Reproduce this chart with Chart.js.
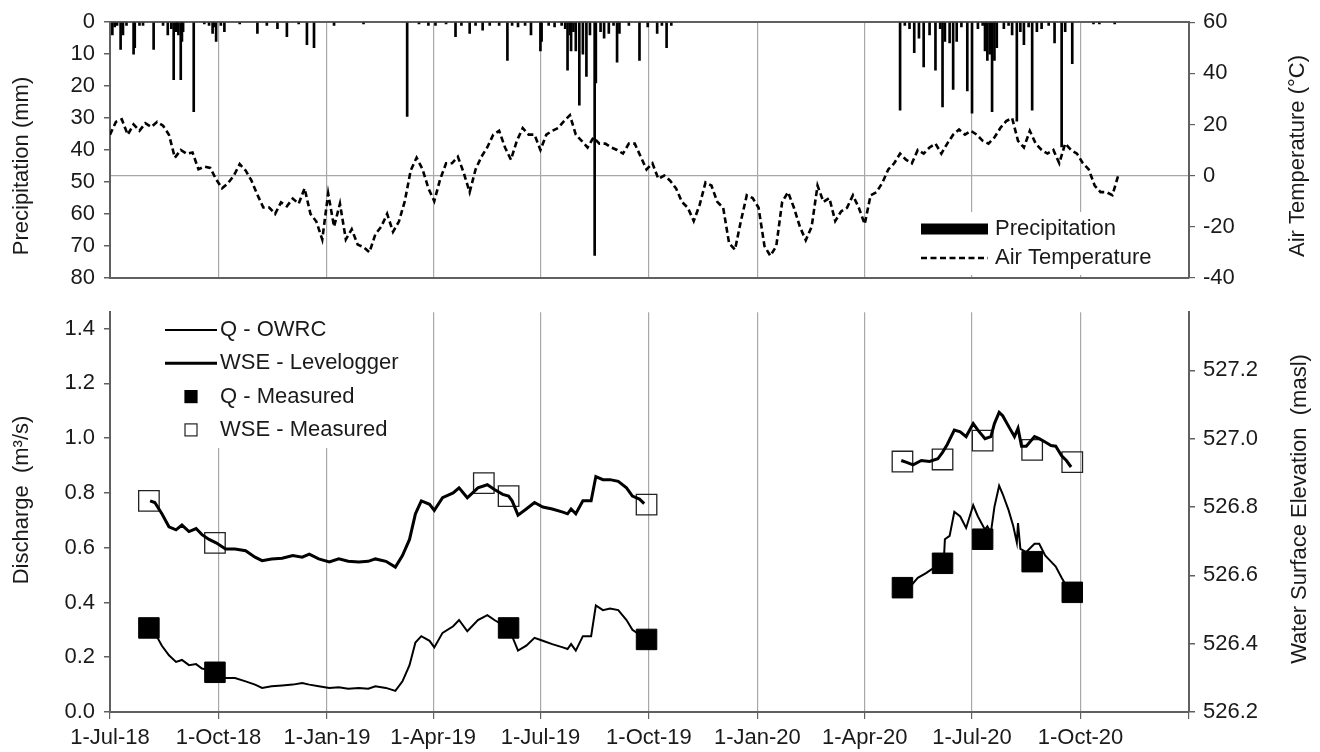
<!DOCTYPE html>
<html>
<head>
<meta charset="utf-8">
<script src="https://cdn.jsdelivr.net/npm/chart.js@4.4.1/dist/chart.umd.min.js"></script>
<style>
  html, body { margin: 0; padding: 0; background: #fff; }
  #wrap { position: relative; width: 1320px; height: 752px; }
  #topChart { position: absolute; left: 0; top: 0; }
  #botChart { position: absolute; left: 0; top: 290px; }
</style>
</head>
<body>
<div id="wrap">
  <canvas id="topChart" width="1320" height="300"></canvas>
  <canvas id="botChart" width="1320" height="462"></canvas>
</div>
<script>
// all x values are days counted from 1-Jul-2018
const quarterDays = [0, 92, 184, 274, 365, 457, 549, 640, 731, 823, 915];
const quarterLabels = ['1-Jul-18', '1-Oct-18', '1-Jan-19', '1-Apr-19', '1-Jul-19', '1-Oct-19', '1-Jan-20', '1-Apr-20', '1-Jul-20', '1-Oct-20', ''];

const precipTicks = [0, 10, 20, 30, 40, 50, 60, 70, 80];
const tempTicks = [-40, -20, 0, 20, 40, 60];
const dischargeTicks = [0, 0.2, 0.4, 0.6, 0.8, 1.0, 1.2, 1.4];
const wseTicks = [526.2, 526.4, 526.6, 526.8, 527.0, 527.2];

// daily precipitation (mm), only days with rain
const precipDays = [2, 4, 6, 9, 11, 14, 20, 21, 25, 28, 37, 45, 49, 52, 54, 56, 57, 58, 60, 61, 62, 71, 80, 84, 87, 88, 90, 94, 97, 110,
  125, 133, 142, 150, 160, 167, 173, 190, 215, 252, 262, 270, 276, 285, 293, 298, 305, 310, 316, 322, 330, 337, 341, 346, 352, 357, 365, 366, 372, 377,
  383, 386, 388, 390, 391, 393, 395, 398, 401, 404, 407, 411, 412, 416, 419, 423, 427, 430, 432, 440, 449, 456, 464, 468, 472, 476,
  670, 674, 678, 682, 686, 690, 695, 700, 704, 706, 708, 712, 715, 718, 722, 727, 731, 736, 740, 742, 744, 746, 748, 750, 752, 758, 762, 765, 769, 772,
  775, 779, 782, 786, 790, 796, 801, 807, 810, 816, 834, 839, 852];
const precipMm = [4, 1.5, 1, 8.5, 4, 1, 10, 8, 1, 1, 8.5, 1, 4, 2, 18, 3, 2, 4, 18, 6, 3, 28, 0.5, 1, 3.5, 1.5, 6, 1, 3, 0.5,
  3.5, 1, 2, 4.5, 0.5, 7, 8, 1, 0.5, 29.5, 0.5, 1, 1, 0.5, 4.5, 1, 3.5, 1, 2.5, 1, 1, 12, 1, 1.5, 1, 4, 9, 6, 1, 1.5,
  1, 2, 15, 4, 9, 3, 9, 26, 10, 17, 4, 73, 19, 3, 5, 3.5, 1, 12.5, 3.5, 1, 12, 1.5, 3.5, 1, 8, 1,
  27.5, 1, 2, 9.5, 5, 14, 4, 15, 2, 26.5, 6, 6.5, 21, 6, 1.5, 21.5, 28.5, 2, 1, 9, 12, 10, 28, 12, 8, 2, 1, 4, 31, 3,
  7, 1.5, 27.5, 3, 2, 1, 6.5, 39, 3, 13, 0.5, 0.5, 0.5];

// air temperature (°C), read every 5 days from day 0
const tempStepDays = 5;
const airTemp = [16, 21, 22, 16, 20, 17.5, 20.5, 19, 21, 19.5,
  16, 7, 10, 8.5, 9, 2.5, 3.5, 3, -1.5, -5,
  -3, 0, 4.5, 2, -2, -7.5, -12.5, -12.5, -15, -10.5,
  -12, -9, -11, -5, -15, -18, -25, -7, -20, -11,
  -25, -21, -27, -28, -30, -23, -20, -15, -22, -18,
  -10, 2, 7, 2.5, -5, -10, -1.4, 4.8, 4.8, 7.4,
  1, -6.5, 2.4, 7.4, 11.1, 16, 17.5, 11, 6.2, 13.6,
  18.6, 16, 16, 10, 16, 17.5, 18.6, 21.3, 23.6, 16,
  13.6, 11, 14.9, 12.5, 12.5, 11, 10, 8.6, 12.5, 12.5,
  7.4, 2.4, 4.8, -1.3, 0, -2, -5, -10.3, -12.6, -17.8,
  -11.5, -2.7, -3.9, -10.3, -12.6, -26.5, -29, -17.8, -7.7, -8.8,
  -12.6, -27.6, -31.4, -27.6, -10.3, -6.5, -12.6, -20, -25.3, -20,
  -3.9, -10.3, -8.8, -17.8, -14, -12.6, -7.7, -12.6, -19, -7.7,
  -6.5, -2.8, 2.4, 4.8, 8.6, 6.2, 4.8, 10, 8.6, 11,
  12.5, 8.6, 12.5, 16, 18, 16, 17.5, 16, 13.6, 12.5,
  14.9, 18.6, 21.3, 22.5, 13.6, 11, 17.5, 12.5, 10, 8.6,
  10, 4.8, 12.5, 10, 8.6, 4.8, 2.4, -3.9, -6.5, -6.5,
  -7.7, 0];

// 2018-2019 record: discharge (m3/s) and water surface elevation (masl) on the same days
const levelDays1 = [34, 38, 44, 50, 56, 61, 67, 73, 78, 84, 90, 98, 106, 115, 123, 129, 137, 146, 155, 163,
  169, 177, 186, 194, 202, 211, 219, 225, 234, 242, 248, 254, 259, 264, 271, 275, 282, 291, 296, 303,
  312, 320, 326, 333, 338, 341, 346, 353, 360, 367, 375, 384, 388, 391, 395, 401, 408, 412, 418, 424,
  431, 438, 443, 449, 453];
const owrcQ1 = [0.30, 0.289, 0.242, 0.207, 0.183, 0.19, 0.171, 0.175, 0.159, 0.153, 0.14, 0.124, 0.124, 0.112, 0.10, 0.088, 0.094, 0.097, 0.10, 0.106,
  0.10, 0.094, 0.088, 0.09, 0.085, 0.088, 0.085, 0.094, 0.088, 0.077, 0.112, 0.171, 0.254, 0.277, 0.26, 0.236, 0.289, 0.313, 0.336, 0.295,
  0.336, 0.354, 0.336, 0.318, 0.295, 0.277, 0.224, 0.242, 0.271, 0.26, 0.248, 0.236, 0.23, 0.248, 0.224, 0.277, 0.277, 0.389, 0.372, 0.378,
  0.372, 0.336, 0.30, 0.283, 0.275];
const loggerWse1 = [526.818, 526.813, 526.78, 526.742, 526.733, 526.747, 526.728, 526.737, 526.719, 526.705, 526.695, 526.677, 526.677, 526.672, 526.653, 526.643, 526.648, 526.65, 526.658, 526.653,
  526.662, 526.648, 526.639, 526.648, 526.641, 526.639, 526.641, 526.648, 526.641, 526.624, 526.658, 526.705, 526.78, 526.818, 526.808, 526.79, 526.827, 526.841, 526.856, 526.827,
  526.856, 526.865, 526.851, 526.837, 526.832, 526.818, 526.776, 526.794, 526.813, 526.80, 526.794, 526.785, 526.78, 526.794, 526.78, 526.818, 526.818, 526.889, 526.88, 526.88,
  526.875, 526.856, 526.832, 526.823, 526.81];

// 2020 record
const owrcDays2 = [672, 679, 685, 692, 696, 703, 707, 708, 712, 716, 721, 726, 732, 736, 742, 744, 747, 750, 754, 757,
  762, 766, 769, 770, 772, 777, 784, 788, 793, 798, 802, 807, 811, 814];
const owrcQ2 = [0.455, 0.46, 0.49, 0.507, 0.519, 0.537, 0.545, 0.631, 0.643, 0.731, 0.714, 0.672, 0.755, 0.714, 0.666, 0.678, 0.655, 0.749, 0.826, 0.796,
  0.737, 0.678, 0.619, 0.69, 0.596, 0.584, 0.614, 0.614, 0.572, 0.549, 0.531, 0.49, 0.46, 0.443];
const loggerDays2 = [671, 675, 681, 688, 695, 702, 706, 710, 716, 721, 726, 732, 736, 742, 747, 750, 754, 757, 763, 767,
  770, 773, 777, 784, 788, 793, 798, 802, 807, 811, 815];
const loggerWse2 = [526.936, 526.931, 526.923, 526.936, 526.933, 526.941, 526.96, 526.983, 527.025, 527.02, 527.006, 527.044, 527.025, 527.0, 527.006, 527.044, 527.077, 527.067, 527.03, 527.006,
  527.03, 526.978, 526.978, 527.006, 527.0, 526.99, 526.98, 526.978, 526.95, 526.936, 526.917];

// field measurements
const qMeasDays = [33, 89, 338, 455, 672, 706, 740, 782, 816];
const qMeasured = [0.307, 0.145, 0.307, 0.265, 0.454, 0.543, 0.631, 0.549, 0.437];
const wseMeasDays = [33, 89, 317, 338, 455, 672, 706, 740, 782, 816];
const wseMeasured = [526.818, 526.695, 526.87, 526.832, 526.807, 526.933, 526.939, 526.994, 526.967, 526.931];

const FONT = '"Liberation Sans", Arial, sans-serif';
const TEXT = '#1a1a1a';
const AXIS = '#606060';
const GRID = '#a8a8a8';

Chart.defaults.font.family = FONT;
Chart.defaults.font.size = 22;
Chart.defaults.color = TEXT;

const pts = (xs, ys) => xs.map((x, i) => ({ x, y: ys[i] }));
// join two record periods with a break between them
const joined = (xa, ya, xb, yb) => [...pts(xa, ya), { x: (xa[xa.length - 1] + xb[0]) / 2, y: null }, ...pts(xb, yb)];
const setTicks = arr => ax => { ax.ticks = arr.map(v => ({ value: v })); };

function titlesPlugin(items) {
  return {
    id: 'sideTitles',
    afterDraw(chart) {
      const ctx = chart.ctx;
      items.forEach(t => {
        ctx.save();
        ctx.translate(t.x, t.y);
        ctx.rotate(-Math.PI / 2);
        ctx.font = '22px ' + FONT;
        ctx.fillStyle = TEXT;
        ctx.textAlign = 'center';
        ctx.textBaseline = 'middle';
        ctx.fillText(t.text, 0, 0);
        ctx.restore();
      });
    }
  };
}

// legend drawn inside the plot, one row per dataset
function legendPlugin(o) {
  return {
    id: 'boxLegend',
    afterDraw(chart) {
      const ctx = chart.ctx;
      ctx.save();
      ctx.fillStyle = '#fff';
      ctx.fillRect(o.box[0], o.box[1], o.box[2], o.box[3]);
      chart.data.datasets.forEach((ds, i) => {
        const y = o.top + i * o.rowGap;
        ctx.save();
        if (ds.type === 'bar') {
          ctx.fillStyle = ds.backgroundColor;
          ctx.fillRect(o.x1, y - o.barH / 2, o.x2 - o.x1, o.barH);
        } else if (ds.showLine === false) {
          const s = o.mark;
          ctx.fillStyle = '#fff';
          ctx.fillRect(o.markX - s / 2, y - s / 2, s, s);
          ctx.fillStyle = ds.backgroundColor;
          ctx.fillRect(o.markX - s / 2, y - s / 2, s, s);
          ctx.lineWidth = 1.2;
          ctx.strokeStyle = ds.borderColor;
          ctx.strokeRect(o.markX - s / 2, y - s / 2, s, s);
        } else {
          ctx.strokeStyle = ds.borderColor;
          ctx.lineWidth = ds.borderWidth;
          ctx.setLineDash(ds.borderDash || []);
          ctx.beginPath();
          ctx.moveTo(o.x1, y);
          ctx.lineTo(o.x2, y);
          ctx.stroke();
        }
        ctx.restore();
        ctx.font = '22px ' + FONT;
        ctx.fillStyle = TEXT;
        ctx.textAlign = 'left';
        ctx.textBaseline = 'middle';
        ctx.fillText(ds.label, o.textX, y);
      });
      ctx.restore();
    }
  };
}

const xBase = {
  type: 'linear', min: 0, max: 915, offset: false,
  afterBuildTicks: setTicks(quarterDays),
  border: { color: AXIS, width: 2 },
};

new Chart(document.getElementById('topChart'), {
  type: 'bar',
  data: {
    datasets: [
      {
        type: 'bar', label: 'Precipitation', data: pts(precipDays, precipMm), yAxisID: 'yP',
        backgroundColor: '#000', barThickness: 2, grouped: false, order: 2
      },
      {
        type: 'line', label: 'Air Temperature', data: pts(airTemp.map((_, i) => i * tempStepDays), airTemp), yAxisID: 'yT',
        borderColor: '#000', borderWidth: 2.6, borderDash: [6, 3.5], pointRadius: 0, tension: 0, order: 1
      }
    ]
  },
  options: {
    responsive: false, animation: false,
    layout: { padding: { top: 20, left: 0, right: 0, bottom: 0 } },
    plugins: { legend: { display: false }, tooltip: { enabled: false } },
    scales: {
      x: {
        ...xBase,
        ticks: { display: false },
        grid: { color: GRID, lineWidth: 1.2, drawTicks: false, offset: false },
        afterFit: ax => { ax.height = 14; }
      },
      xTop: {
        type: 'linear', position: 'top', min: 0, max: 915,
        ticks: { display: false }, grid: { display: false, drawTicks: false },
        border: { color: AXIS, width: 2 },
        afterFit: ax => { ax.height = 0; }
      },
      yP: {
        position: 'left', reverse: true, min: 0, max: 80,
        afterBuildTicks: setTicks(precipTicks),
        ticks: { padding: 9, callback: v => v },
        grid: { drawOnChartArea: false, tickLength: 6, tickColor: AXIS, lineWidth: 1.5 },
        border: { color: AXIS, width: 2 },
        afterFit: ax => { ax.width = 110; }
      },
      yT: {
        position: 'right', min: -40, max: 60,
        afterBuildTicks: setTicks(tempTicks),
        ticks: { padding: 8, callback: v => v },
        grid: {
          color: c => (c.tick && c.tick.value === 0 ? GRID : 'rgba(0,0,0,0)'),
          tickColor: AXIS, tickLength: 6, lineWidth: 1.2
        },
        border: { color: AXIS, width: 2 },
        afterFit: ax => { ax.width = 131; }
      }
    }
  },
  plugins: [
    titlesPlugin([
      { text: 'Precipitation (mm)', x: 22, y: 166 },
      { text: 'Air Temperature (°C)', x: 1298, y: 156 }
    ]),
    legendPlugin({ box: [914, 212, 252, 63], top: 229, rowGap: 29, x1: 921, x2: 988, barH: 11, textX: 995 })
  ]
});

new Chart(document.getElementById('botChart'), {
  type: 'line',
  data: {
    datasets: [
      {
        label: 'Q - OWRC', data: joined(levelDays1, owrcQ1, owrcDays2, owrcQ2), yAxisID: 'yQ',
        borderColor: '#000', borderWidth: 2, pointRadius: 0, tension: 0, spanGaps: false
      },
      {
        label: 'WSE - Levelogger', data: joined(levelDays1, loggerWse1, loggerDays2, loggerWse2), yAxisID: 'yW',
        borderColor: '#000', borderWidth: 3, pointRadius: 0, tension: 0, spanGaps: false
      },
      {
        label: 'Q - Measured', data: pts(qMeasDays, qMeasured), yAxisID: 'yQ', showLine: false,
        pointStyle: 'rect', pointRadius: 14.5, backgroundColor: '#000', borderColor: '#000', borderWidth: 1
      },
      {
        label: 'WSE - Measured', data: pts(wseMeasDays, wseMeasured), yAxisID: 'yW', showLine: false,
        pointStyle: 'rect', pointRadius: 14.5, backgroundColor: 'rgba(0,0,0,0)', borderColor: '#222', borderWidth: 1.3
      }
    ]
  },
  options: {
    responsive: false, animation: false,
    layout: { padding: { top: 9, left: 0, right: 0, bottom: 0 } },
    plugins: { legend: { display: false }, tooltip: { enabled: false } },
    scales: {
      x: {
        ...xBase,
        ticks: {
          padding: 6, autoSkip: false, maxRotation: 0,
          callback: v => { const i = quarterDays.indexOf(v); return i < 0 ? '' : quarterLabels[i]; }
        },
        grid: { color: GRID, lineWidth: 1.2, tickLength: 7, tickColor: AXIS, offset: false },
        afterFit: ax => { ax.height = 40; }
      },
      yQ: {
        position: 'left', min: 0, max: 1.46,
        afterBuildTicks: setTicks(dischargeTicks),
        ticks: { padding: 9, callback: v => v.toFixed(1) },
        grid: { drawOnChartArea: false, tickLength: 6, tickColor: AXIS, lineWidth: 1.5 },
        border: { color: AXIS, width: 2 },
        afterFit: ax => { ax.width = 110; }
      },
      yW: {
        position: 'right', min: 526.2, max: 527.37,
        afterBuildTicks: setTicks(wseTicks),
        ticks: { padding: 8, callback: v => v.toFixed(1) },
        grid: { drawOnChartArea: false, tickLength: 6, tickColor: AXIS, lineWidth: 1.5 },
        border: { color: AXIS, width: 2 },
        afterFit: ax => { ax.width = 131; }
      }
    }
  },
  plugins: [
    titlesPlugin([
      { text: 'Discharge  (m³/s)', x: 22, y: 210 },
      { text: 'Water Surface Elevation  (masl)', x: 1300, y: 219 }
    ]),
    legendPlugin({ box: [160, 20, 262, 138], top: 40, rowGap: 33.3, x1: 165, x2: 217, mark: 12, markX: 191, textX: 220 })
  ]
});
</script>
</body>
</html>
